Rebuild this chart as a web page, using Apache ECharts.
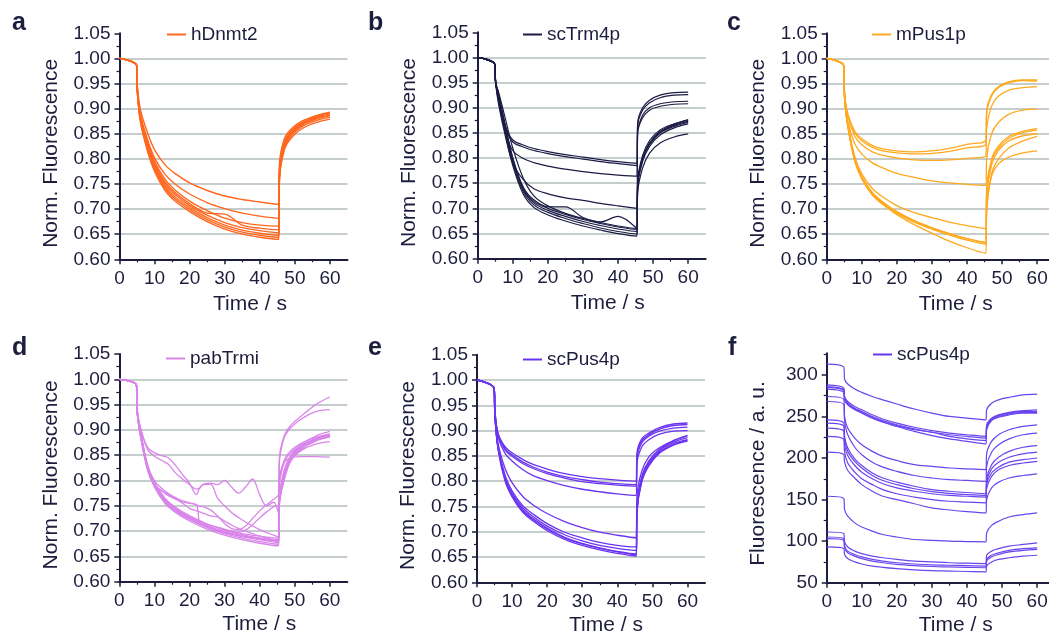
<!DOCTYPE html>
<html>
<head>
<meta charset="utf-8">
<script src="https://cdn.jsdelivr.net/npm/echarts@6/dist/echarts.min.js"></script>
<style>
html,body{margin:0;padding:0;background:#fff;}
#chart{width:1049px;height:635px;}
</style>
</head>
<body>
<div id="chart"></div>
<script>
// ---------------- DATA ----------------
const T = [0, 4.9, 5.1, 6, 8, 10, 13, 16, 20, 25, 30, 35, 40, 45.4, 45.6, 47, 49, 52, 56, 60];
const TD = [0, 4.9, 5.1, 6, 8, 10, 12, 14, 16, 18, 20, 22, 22.9, 24, 26, 28, 30, 32, 34, 36, 38, 40, 42, 44, 45.4, 45.6, 47, 49, 52, 56, 60];

const panelLabels = ['a', 'b', 'c', 'd', 'e', 'f'];
const seriesNames = ['hDnmt2', 'scTrm4p', 'mPus1p', 'pabTrmi', 'scPus4p', 'scPus4p'];
const xTickLabels = [0, 10, 20, 30, 40, 50, 60];
const normTicks = [0.60, 0.65, 0.70, 0.75, 0.80, 0.85, 0.90, 0.95, 1.00, 1.05];
const rawTicks = [50, 100, 150, 200, 250, 300];

const hDnmt2 = [
  [1.000,0.985,0.930,0.872,0.815,0.775,0.737,0.715,0.695,0.675,0.660,0.650,0.644,0.640,0.755,0.818,0.842,0.860,0.872,0.879],
  [1.000,0.986,0.932,0.875,0.818,0.778,0.741,0.719,0.699,0.679,0.664,0.654,0.648,0.644,0.760,0.822,0.846,0.864,0.876,0.883],
  [1.000,0.985,0.934,0.878,0.822,0.782,0.745,0.723,0.703,0.683,0.668,0.658,0.652,0.648,0.765,0.826,0.850,0.867,0.879,0.886],
  [1.000,0.986,0.935,0.880,0.826,0.786,0.750,0.728,0.707,0.688,0.673,0.663,0.657,0.653,0.770,0.830,0.853,0.870,0.882,0.890],
  [1.000,0.985,0.936,0.882,0.830,0.790,0.754,0.732,0.711,0.692,0.690,0.668,0.662,0.659,0.772,0.828,0.851,0.868,0.880,0.887],
  [1.000,0.986,0.937,0.884,0.834,0.795,0.759,0.737,0.716,0.697,0.682,0.673,0.668,0.666,0.775,0.832,0.855,0.871,0.883,0.892],
  [1.000,0.986,0.940,0.888,0.838,0.802,0.769,0.749,0.730,0.713,0.701,0.692,0.686,0.682,0.780,0.834,0.856,0.872,0.884,0.890],
  [1.000,0.986,0.945,0.897,0.852,0.818,0.788,0.770,0.752,0.737,0.726,0.719,0.714,0.709,0.790,0.840,0.860,0.875,0.886,0.893]
];
const scTrm4p = [
  [1.000,0.986,0.955,0.915,0.862,0.836,0.826,0.819,0.813,0.807,0.802,0.797,0.793,0.790,0.870,0.900,0.915,0.925,0.930,0.931],
  [1.000,0.986,0.955,0.913,0.858,0.832,0.822,0.815,0.809,0.803,0.798,0.793,0.789,0.785,0.865,0.895,0.910,0.920,0.925,0.926],
  [1.000,0.986,0.953,0.910,0.850,0.815,0.799,0.791,0.784,0.778,0.773,0.769,0.766,0.764,0.850,0.880,0.895,0.903,0.907,0.908],
  [1.000,0.986,0.950,0.905,0.840,0.790,0.757,0.739,0.729,0.721,0.716,0.710,0.705,0.700,0.850,0.885,0.900,0.908,0.912,0.913],
  [1.000,0.986,0.950,0.925,0.860,0.800,0.740,0.714,0.700,0.688,0.678,0.670,0.663,0.658,0.750,0.800,0.830,0.852,0.865,0.873],
  [1.000,0.986,0.950,0.922,0.855,0.795,0.737,0.711,0.696,0.684,0.674,0.666,0.659,0.654,0.745,0.797,0.827,0.850,0.863,0.871],
  [1.000,0.986,0.950,0.920,0.850,0.790,0.733,0.707,0.692,0.680,0.670,0.661,0.654,0.649,0.740,0.793,0.823,0.846,0.860,0.868],
  [1.000,0.986,0.948,0.918,0.845,0.785,0.728,0.702,0.687,0.675,0.665,0.657,0.650,0.645,0.730,0.780,0.810,0.830,0.842,0.848],
  [1.000,0.986,0.950,0.925,0.860,0.800,0.742,0.717,0.703,0.703,0.682,0.673,0.684,0.660,0.750,0.800,0.830,0.853,0.867,0.876],
  [1.000,0.986,0.952,0.930,0.875,0.820,0.760,0.725,0.705,0.690,0.680,0.672,0.665,0.660,0.755,0.805,0.835,0.856,0.868,0.876]
];
const mPus1p = [
  [1.000,0.985,0.930,0.890,0.855,0.840,0.827,0.820,0.816,0.814,0.816,0.821,0.829,0.838,0.895,0.928,0.944,0.954,0.957,0.957],
  [1.000,0.985,0.930,0.888,0.852,0.836,0.823,0.816,0.812,0.810,0.811,0.815,0.822,0.830,0.890,0.925,0.942,0.952,0.956,0.955],
  [1.000,0.985,0.928,0.885,0.845,0.828,0.814,0.807,0.802,0.798,0.797,0.798,0.801,0.806,0.860,0.905,0.925,0.937,0.942,0.944],
  [1.000,0.985,0.925,0.875,0.830,0.810,0.792,0.782,0.771,0.763,0.756,0.752,0.749,0.747,0.800,0.850,0.873,0.889,0.897,0.899],
  [1.000,0.985,0.920,0.870,0.805,0.770,0.741,0.724,0.707,0.693,0.683,0.674,0.667,0.661,0.740,0.800,0.826,0.845,0.855,0.860],
  [1.000,0.985,0.920,0.867,0.800,0.765,0.733,0.714,0.695,0.677,0.663,0.651,0.641,0.633,0.730,0.795,0.822,0.841,0.852,0.857],
  [1.000,0.985,0.920,0.866,0.798,0.762,0.730,0.711,0.692,0.674,0.660,0.648,0.638,0.630,0.720,0.788,0.817,0.836,0.846,0.850],
  [1.000,0.985,0.920,0.865,0.795,0.760,0.728,0.709,0.689,0.669,0.652,0.636,0.623,0.612,0.690,0.770,0.800,0.822,0.836,0.845],
  [1.000,0.985,0.920,0.866,0.797,0.764,0.732,0.713,0.694,0.676,0.662,0.651,0.641,0.634,0.700,0.765,0.790,0.804,0.812,0.816]
];
const pabTrmi = [
  [1,0.988,0.935,0.893,0.823,0.787,0.755,0.737,0.720,0.704,0.692,0.683,0.676,0.671,0.750,0.800,0.840,0.862,0.878,0.886],
  [1,0.988,0.936,0.895,0.826,0.790,0.758,0.740,0.723,0.707,0.695,0.686,0.679,0.674,0.755,0.810,0.845,0.868,0.884,0.892],
  [1,0.988,0.937,0.897,0.830,0.794,0.762,0.744,0.727,0.711,0.699,0.690,0.683,0.677,0.760,0.815,0.850,0.872,0.888,0.897],
  [1,0.988,0.938,0.899,0.833,0.797,0.765,0.747,0.730,0.714,0.702,0.693,0.686,0.680,0.750,0.805,0.840,0.860,0.872,0.877],
  [1,0.988,0.936,0.895,0.827,0.791,0.759,0.741,0.724,0.708,0.697,0.689,0.684,0.680,0.840,0.888,0.910,0.928,0.950,0.965],
  [1,0.988,0.936,0.896,0.829,0.793,0.761,0.743,0.726,0.710,0.699,0.691,0.686,0.683,0.830,0.885,0.905,0.922,0.936,0.940],
  [1,0.988,0.936,0.896,0.828,0.792,0.760,0.742,0.725,0.709,0.698,0.690,0.685,0.681,0.800,0.835,0.845,0.847,0.847,0.846],
  [1,0.988,0.937,0.898,0.830,0.795,0.764,0.746,0.730,0.714,0.703,0.695,0.690,0.686,0.760,0.810,0.843,0.865,0.880,0.888]
];
// irregular pabTrmi traces, sampled on TD
const pabTrmiIrregular = [
  [1,0.988,0.940,0.905,0.866,0.855,0.849,0.845,0.830,0.812,0.795,0.772,0.785,0.793,0.795,0.792,0.800,0.787,0.775,0.787,0.803,0.772,0.750,0.757,0.735,0.770,0.820,0.850,0.868,0.882,0.888],
  [1,0.988,0.940,0.905,0.862,0.848,0.840,0.832,0.815,0.803,0.792,0.783,0.785,0.792,0.793,0.765,0.750,0.737,0.727,0.718,0.710,0.703,0.697,0.692,0.688,0.760,0.815,0.848,0.868,0.882,0.890],
  [1,0.988,0.935,0.890,0.830,0.800,0.785,0.774,0.766,0.760,0.756,0.752,0.750,0.748,0.742,0.730,0.715,0.705,0.703,0.710,0.725,0.740,0.752,0.763,0.772,0.800,0.840,0.860,0.874,0.885,0.890],
  [1,0.988,0.935,0.888,0.825,0.793,0.780,0.770,0.763,0.758,0.755,0.752,0.716,0.714,0.711,0.708,0.704,0.700,0.698,0.702,0.713,0.726,0.738,0.748,0.752,0.790,0.835,0.856,0.870,0.882,0.888],
  [1,0.988,0.935,0.890,0.822,0.790,0.780,0.772,0.764,0.755,0.745,0.740,0.738,0.735,0.730,0.728,0.720,0.712,0.705,0.700,0.695,0.690,0.686,0.683,0.680,0.755,0.810,0.845,0.866,0.880,0.886]
];
const scPus4pNorm = [
  [1,0.983,0.940,0.895,0.868,0.856,0.843,0.833,0.824,0.815,0.809,0.805,0.802,0.800,0.855,0.884,0.895,0.906,0.913,0.915],
  [1,0.983,0.940,0.893,0.864,0.852,0.838,0.828,0.818,0.809,0.803,0.798,0.795,0.793,0.850,0.880,0.892,0.903,0.910,0.912],
  [1,0.983,0.940,0.892,0.862,0.849,0.835,0.825,0.815,0.806,0.799,0.795,0.792,0.790,0.845,0.876,0.889,0.899,0.905,0.907],
  [1,0.983,0.938,0.888,0.855,0.840,0.823,0.811,0.801,0.791,0.784,0.779,0.775,0.772,0.835,0.868,0.882,0.893,0.899,0.900],
  [1,0.983,0.935,0.875,0.825,0.797,0.770,0.753,0.736,0.720,0.708,0.699,0.693,0.688,0.770,0.820,0.848,0.866,0.880,0.890],
  [1,0.983,0.930,0.865,0.805,0.774,0.744,0.726,0.707,0.689,0.677,0.668,0.661,0.656,0.740,0.805,0.835,0.858,0.874,0.882],
  [1,0.983,0.930,0.863,0.800,0.769,0.739,0.721,0.702,0.685,0.673,0.664,0.657,0.652,0.735,0.800,0.830,0.855,0.871,0.879],
  [1,0.983,0.931,0.867,0.808,0.777,0.748,0.730,0.711,0.694,0.682,0.673,0.667,0.663,0.745,0.808,0.838,0.861,0.877,0.886],
  [1,0.983,0.932,0.869,0.812,0.781,0.752,0.735,0.716,0.699,0.688,0.679,0.673,0.670,0.750,0.810,0.840,0.863,0.880,0.890],
  [1,0.983,0.931,0.866,0.803,0.772,0.742,0.724,0.705,0.688,0.676,0.667,0.660,0.654,0.740,0.800,0.832,0.856,0.872,0.881]
];
const scPus4pRaw = [
  [313,309,295,289,283,279,274,270,265,259,254,250,248,246,258,266,270,273,276,277],
  [288,284,274,268,262,258,252,247,242,237,233,230,228,226,240,248,252,255,257,258],
  [286,282,272,266,260,256,250,245,240,235,231,228,226,224,238,247,251,254,256,256],
  [285,281,271,265,259,255,249,244,239,234,231,226,223,221,236,246,250,253,255,255],
  [283,279,270,264,258,254,248,243,238,232,227,223,220,217,234,245,249,252,254,254],
  [274,270,250,236,224,216,208,202,197,192,190,188,187,186,205,220,228,234,238,240],
  [268,264,245,228,213,204,195,189,184,179,176,174,173,172,190,207,216,223,228,230],
  [246,242,226,212,199,191,182,176,171,166,162,160,158.5,157,175,192,201,208,213,215],
  [242,238,222,208,196,188,179,173,168,163,159.5,157.5,156,155,172,187,195,201,205,207],
  [236,232,216,203,191,183,175,169,164,160,157,155,154,153,168,182,189,195,198,200],
  [226,222,207,194,183,175,168,162,157,153,150,148,147,146,163,178,186,191,194,196],
  [207,204,195,185,176,168,160,154,150,145,140,137.5,135.5,134,150,164,171,176,179,181],
  [154,151,138,130,122,117,112,108,105,102,101,100,99.5,99,110,119,124,129,132,134],
  [111,109,99,93,88,85,82,80,78,76,75,74,73.5,73,83,88,91,94,96,98],
  [105,103,94,88,84,81,78,76,74,72.5,71.5,71,70.5,70,78,83,86,89,91,92],
  [103,101,92,86,82,79,76,74,72,70.5,69.5,69,68.5,68,76,81,84,87,89,90],
  [93,91,84,79,75,72.5,70,68.5,67,65.5,64.5,64,63.5,63,70,75,78,80,82,83]
];

// ---------------- STYLE / LAYOUT ----------------
const FONT = '"Liberation Sans", Arial, Helvetica, sans-serif';
const TXT = '#1d1d3d';
const AX = '#1d1d3d';
const GRIDC = '#b2bdbd';
const colors = ['#ff671f', '#1b1b45', '#ffa91e', '#d985ea', '#6b34f0', '#6a45ee'];
const lineWidths = [1.4, 1.2, 1.3, 1.3, 1.3, 1.2];

const grids = [
  {left: 119.5, top: 33.3, width: 228, height: 226},
  {left: 477.7, top: 32.3, width: 228, height: 226.4},
  {left: 826.7, top: 33.3, width: 228, height: 226},
  {left: 119.3, top: 354, width: 228, height: 227.7},
  {left: 477, top: 354.7, width: 228, height: 227.6},
  {left: 826.7, top: 353.3, width: 228, height: 229.4}
];
const labelPos = [[12, 11], [368, 11], [727, 11], [12, 336], [368, 336], [728, 336]];
const legendPos = [[167, 25], [523, 25], [872, 25], [166, 349], [523, 350], [873, 345]];
const xNameShift = [33, 32, 30, 52, 30, 30];
const xNameGap = [34, 34, 34, 32, 32, 32];

const panelData = [
  [{time: T, traces: hDnmt2}],
  [{time: T, traces: scTrm4p}],
  [{time: T, traces: mPus1p}],
  [{time: T, traces: pabTrmi}, {time: TD, traces: pabTrmiIrregular}],
  [{time: T, traces: scPus4pNorm}],
  [{time: T, traces: scPus4pRaw}]
];

const series = [];
panelData.forEach((groups, p) => {
  groups.forEach(g => {
    g.traces.forEach(vals => {
      series.push({
        type: 'line',
        name: seriesNames[p],
        xAxisIndex: p,
        yAxisIndex: p,
        data: g.time.map((t, k) => [t, vals[k]]),
        symbol: 'none',
        showSymbol: false,
        smooth: 0.35,
        silent: true,
        lineStyle: {color: colors[p], width: lineWidths[p]},
        itemStyle: {color: colors[p]},
        emphasis: {disabled: true}
      });
    });
  });
});

const xAxes = grids.map((g, i) => ({
  type: 'value', gridIndex: i, min: 0, max: 65, interval: 10,
  axisLine: {show: true, onZero: false, lineStyle: {color: AX, width: 2}},
  axisTick: {show: true, length: 5, customValues: xTickLabels, lineStyle: {color: AX, width: 1.5}},
  minorTick: {show: true, splitNumber: 2, length: 3, lineStyle: {color: AX, width: 1.2}},
  axisLabel: {show: true, customValues: xTickLabels, fontSize: 19, color: TXT, fontFamily: FONT, margin: 10},
  splitLine: {show: false},
  name: 'Time / s', nameLocation: 'middle', nameGap: xNameGap[i],
  nameTextStyle: {fontSize: 21, color: TXT, fontFamily: FONT, padding: [0, 0, 0, xNameShift[i]]}
}));

const yAxes = grids.map((g, i) => {
  const raw = i === 5;
  return {
    type: 'value', gridIndex: i,
    min: raw ? 50 : 0.6, max: raw ? 326 : 1.05, interval: raw ? 50 : 0.05,
    axisLine: {show: true, onZero: false, lineStyle: {color: AX, width: 2}},
    axisTick: {show: true, length: 5, customValues: raw ? rawTicks : normTicks, lineStyle: {color: AX, width: 1.5}},
    minorTick: {show: true, splitNumber: 2, length: 3, lineStyle: {color: AX, width: 1.2}},
    axisLabel: {
      show: true,
      customValues: raw ? rawTicks : normTicks,
      formatter: v => raw ? String(Math.round(v)) : v.toFixed(2),
      fontSize: 19, color: TXT, fontFamily: FONT, margin: 9
    },
    splitLine: {show: !raw, showMinLine: false, showMaxLine: false, lineStyle: {color: GRIDC, width: 1.5}},
    name: raw ? 'Fluorescence / a. u.' : 'Norm. Fluorescence',
    nameLocation: 'middle', nameGap: 58,
    nameTextStyle: {fontSize: 21, color: TXT, fontFamily: FONT, padding: [0, raw ? 11 : 14, 0, 0]}
  };
});

const option = {
  animation: false,
  backgroundColor: '#ffffff',
  title: panelLabels.map((l, i) => ({
    text: l, left: labelPos[i][0], top: labelPos[i][1], padding: 0,
    textStyle: {fontSize: 25, fontWeight: 'bold', color: TXT, fontFamily: FONT}
  })),
  legend: seriesNames.map((n, i) => ({
    data: [n], left: legendPos[i][0], top: legendPos[i][1], padding: 0,
    icon: 'rect', itemWidth: 19, itemHeight: 2, selectedMode: false,
    textStyle: {fontSize: 19, color: TXT, fontFamily: FONT}
  })),
  grid: grids.map(g => Object.assign({outerBoundsMode: 'none', containLabel: false}, g)),
  xAxis: xAxes,
  yAxis: yAxes,
  series: series
};

const chart = echarts.init(document.getElementById('chart'), null, {renderer: 'canvas'});
chart.setOption(option);
</script>
</body>
</html>
